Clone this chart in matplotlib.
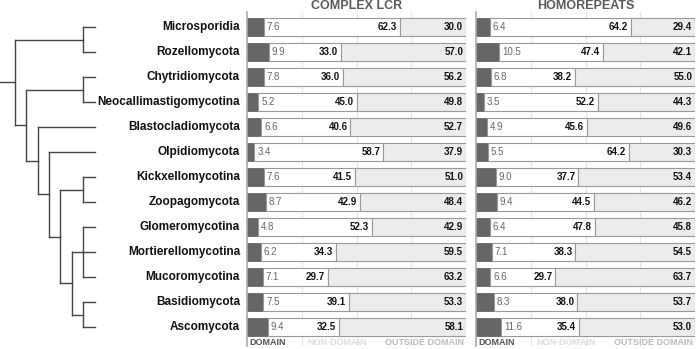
import matplotlib.pyplot as plt
import numpy as np

plt.rcParams['font.family'] = ['Liberation Sans', 'DejaVu Sans']

# clades, top to bottom
clades = ["Microsporidia", "Rozellomycota", "Chytridiomycota",
          "Neocallimastigomycotina", "Blastocladiomycota", "Olpidiomycota",
          "Kickxellomycotina", "Zoopagomycota", "Glomeromycotina",
          "Mortierellomycotina", "Mucoromycotina", "Basidiomycota", "Ascomycota"]

# complex LCR: % in domain / non-domain / outside domain
lcr_domain = [7.6, 9.9, 7.8, 5.2, 6.6, 3.4, 7.6, 8.7, 4.8, 6.2, 7.1, 7.5, 9.4]
lcr_nondomain = [62.3, 33.0, 36.0, 45.0, 40.6, 58.7, 41.5, 42.9, 52.3, 34.3, 29.7, 39.1, 32.5]
lcr_outside = [30.0, 57.0, 56.2, 49.8, 52.7, 37.9, 51.0, 48.4, 42.9, 59.5, 63.2, 53.3, 58.1]

# homorepeats
hr_domain = [6.4, 10.5, 6.8, 3.5, 4.9, 5.5, 9.0, 9.4, 6.4, 7.1, 6.6, 8.3, 11.6]
hr_nondomain = [64.2, 47.4, 38.2, 52.2, 45.6, 64.2, 37.7, 44.5, 47.8, 38.3, 29.7, 38.0, 35.4]
hr_outside = [29.4, 42.1, 55.0, 44.3, 49.6, 30.3, 53.4, 46.2, 45.8, 54.5, 63.7, 53.7, 53.0]

# cladogram as nested tuples of leaf indices
tree = ((0, 1), ((2, 3), (4, (5, ((6, 7), ((8, 9, 10), (11, 12)))))))

W, H = 697, 349
fig = plt.figure(figsize=(W / 100, H / 100), dpi=100)

top_px, bot_px = 12, 346
ylim = (12.75, -0.6)
ax_b = 1 - bot_px / H
ax_h = (bot_px - top_px) / H

y = np.arange(len(clades))

# ---- tree + names ----
axt = fig.add_axes([0, ax_b, 246 / W, ax_h])
axt.set_xlim(0, 246)
axt.set_ylim(*ylim)
axt.axis('off')

tc = '#444444'


def draw(node, depth):
    if isinstance(node, int):
        return 95, node
    kids = [draw(k, depth + 1) for k in node]
    if all(isinstance(k, int) for k in node):
        x = 83
    else:
        x = 15 + 11.3 * depth
    ys = [k[1] for k in kids]
    for kx, ky in kids:
        axt.plot([x, kx], [ky, ky], color=tc, lw=1)
    axt.plot([x, x], [min(ys), max(ys)], color=tc, lw=1)
    if len(ys) == 3:
        ym = ys[1]
    else:
        ym = (min(ys) + max(ys)) / 2
    return x, ym


rx, ry = draw(tree, 0)
axt.plot([0, rx], [ry, ry], color=tc, lw=1)

for i, name in enumerate(clades):
    axt.text(240, i, name, ha='right', va='center', fontsize=8.5,
             fontweight='bold', color='#111111')


def panel(left_px, title, dom, nond, outs):
    ax = fig.add_axes([left_px / W, ax_b, 219 / W, ax_h])
    ax.set_xlim(0, 100)
    ax.set_ylim(*ylim)
    for s in ['top', 'right', 'bottom']:
        ax.spines[s].set_visible(False)
    ax.spines['left'].set_color('#aaaaaa')
    ax.spines['left'].set_linewidth(1.2)
    ax.set_xticks([])
    ax.set_yticks([])
    for g in [25, 50, 75]:
        ax.axvline(g, color='#e4e4e4', lw=0.8, zorder=0)
    dom = np.array(dom)
    nond = np.array(nond)
    outs = np.array(outs)
    h = 0.7
    ax.barh(y, dom, height=h, color='#666666', edgecolor='#666666', lw=0.6, zorder=2)
    ax.barh(y, nond, left=dom, height=h, color='white', edgecolor='#999999', lw=0.8, zorder=2)
    ax.barh(y, outs, left=dom + nond, height=h, color='#ececec', edgecolor='#999999', lw=0.8, zorder=2)
    for i in range(len(y)):
        ax.text(dom[i] + 1.3, i, f"{dom[i]:.1f}", ha='left', va='center',
                fontsize=7, color='#666666', zorder=3)
        ax.text(dom[i] + nond[i] - 1.3, i, f"{nond[i]:.1f}", ha='right', va='center',
                fontsize=7, fontweight='bold', color='#111111', zorder=3)
        ax.text(98.7, i, f"{outs[i]:.1f}", ha='right', va='center',
                fontsize=7, fontweight='bold', color='#111111', zorder=3)
    ax.text(50, -0.85, title, ha='center', va='center', fontsize=9,
            fontweight='bold', color='#5a5a5a', clip_on=False)
    ax.text(1, 12.6, "DOMAIN", ha='left', va='center', fontsize=6.5,
            fontweight='bold', color='#555555')
    ax.text(41, 12.6, "NON-DOMAIN", ha='center', va='center', fontsize=6.5,
            fontweight='bold', color='#dddddd')
    ax.text(99, 12.6, "OUTSIDE DOMAIN", ha='right', va='center', fontsize=6.5,
            fontweight='bold', color='#bbbbbb')
    return ax


panel(247, "COMPLEX LCR", lcr_domain, lcr_nondomain, lcr_outside)
panel(476, "HOMOREPEATS", hr_domain, hr_nondomain, hr_outside)

fig.savefig("out.png", dpi=100)
